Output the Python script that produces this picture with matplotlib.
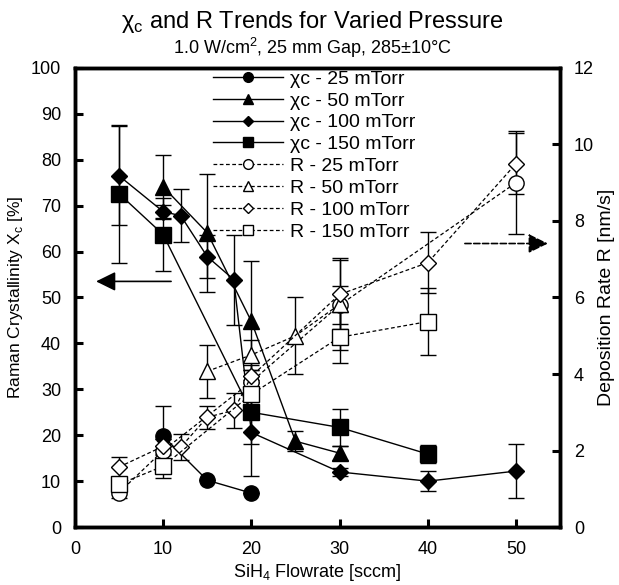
import matplotlib
matplotlib.use('Agg')
import matplotlib.pyplot as plt
from matplotlib.lines import Line2D

plt.rcParams['font.family'] = ['Liberation Sans', 'DejaVu Sans']
plt.rcParams['mathtext.fontset'] = 'custom'
plt.rcParams['mathtext.rm'] = 'Liberation Sans'

# crystallinity (left axis, %)
xc25_x = [10, 15, 20]
xc25_y = [19.8, 10.2, 7.4]
xc25_e = [6.5, 0, 0]

xc50_x = [10, 15, 20, 25, 30]
xc50_y = [74.1, 64.1, 44.8, 18.7, 16.1]
xc50_e = [7.0, 12.8, 13.2, 2.2, 1.5]

xc100_x = [5, 10, 12, 15, 18, 20, 30, 40, 50]
xc100_y = [76.5, 68.7, 67.8, 58.9, 53.9, 20.6, 12.0, 10.0, 12.2]
xc100_e = [10.8, 1.5, 5.8, 4.6, 9.8, 9.5, 0.8, 2.2, 5.9]

xc150_x = [5, 10, 20, 30, 40]
xc150_y = [72.6, 63.7, 25.0, 21.7, 15.9]
xc150_e = [15.0, 8.0, 7.0, 4.0, 2.0]

# deposition rate (right axis, nm/s)
r25_x = [5, 10, 20, 30, 50]
r25_y = [0.9, 2.0, 3.8, 5.8, 9.0]
r25_e = [0.15, 0.3, 0.3, 0.5, 1.35]

r50_x = [15, 20, 25, 30]
r50_y = [4.07, 4.5, 5.0, 5.82]
r50_e = [0.7, 0.4, 1.0, 1.2]

r100_x = [5, 10, 12, 15, 18, 20, 30, 40, 50]
r100_y = [1.57, 2.11, 2.09, 2.87, 3.05, 3.94, 6.08, 6.91, 9.5]
r100_e = [0.26, 0.2, 0.35, 0.3, 0.45, 0.3, 0.9, 0.8, 0.8]

r150_x = [5, 10, 20, 30, 40]
r150_y = [1.12, 1.59, 3.47, 4.96, 5.37]
r150_e = [0.2, 0.3, 0.3, 0.66, 0.88]

pressures = ['25', '50', '100', '150']
markers = ['o', '^', 'D', 's']
sizes = [11, 12, 8.5, 12]
leg_sizes = [7, 7, 5, 7]

xc_series = [(xc25_x, xc25_y, xc25_e), (xc50_x, xc50_y, xc50_e),
             (xc100_x, xc100_y, xc100_e), (xc150_x, xc150_y, xc150_e)]
r_series = [(r25_x, r25_y, r25_e), (r50_x, r50_y, r50_e),
            (r100_x, r100_y, r100_e), (r150_x, r150_y, r150_e)]

fig = plt.figure(figsize=(6.19, 5.85), dpi=100)
ax = fig.add_axes([0.121, 0.099, 0.784, 0.785])
ax2 = ax.twinx()

for (x, y, e), m, ms in zip(xc_series, markers, sizes):
    ax.errorbar(x, y, yerr=e, fmt=m, ls='-', color='black', lw=1.0,
                ms=ms, mfc='black', mec='black', ecolor='black',
                elinewidth=1.0, capsize=6, capthick=1.0)

for (x, y, e), m, ms in zip(r_series, markers, sizes):
    ax2.errorbar(x, y, yerr=e, fmt=m, ls=(0, (3, 2)), color='black', lw=0.9,
                 ms=ms, mfc='white', mec='black', mew=1.0, ecolor='black',
                 elinewidth=1.0, capsize=6, capthick=1.0)

ax.set_xlim(0, 55)
ax.set_ylim(0, 100)
ax2.set_ylim(0, 12)
ax.set_xticks(range(0, 51, 10))
ax.set_yticks(range(0, 101, 10))
ax2.set_yticks(range(0, 13, 2))

for a in (ax, ax2):
    for s in a.spines.values():
        s.set_linewidth(2.5)
    a.tick_params(direction='in', length=6, width=2.2, labelsize=13, pad=10)

ax.set_xlabel('SiH$_\\mathregular{4}$ Flowrate [sccm]', fontsize=13, labelpad=3)
ax.set_ylabel('Raman Crystallinity X$_\\mathregular{c}$ [%]', fontsize=12.5, labelpad=4)
ax2.set_ylabel('Deposition Rate R [nm/s]', fontsize=14, labelpad=3)

fig.text(0.505, 0.963, 'χ$_\\mathregular{c}$ and R Trends for Varied Pressure',
         ha='center', va='center', fontsize=17)
fig.text(0.505, 0.918, '1.0 W/cm$^\\mathregular{2}$, 25 mm Gap, 285±10°C',
         ha='center', va='center', fontsize=13)

# arrows pointing to the axes
head = '-|>,head_length=0.85,head_width=0.42'
ax.annotate('', xy=(2.4, 53.5), xytext=(10.9, 53.5),
            arrowprops=dict(arrowstyle=head, color='black', lw=1.2,
                            mutation_scale=14, shrinkA=0, shrinkB=0))
ax2.annotate('', xy=(53.6, 7.41), xytext=(44.2, 7.41),
             arrowprops=dict(arrowstyle=head, color='black', lw=1.2, ls='--',
                             mutation_scale=14, shrinkA=0, shrinkB=0))

handles = []
labels = []
for p, m, ms in zip(pressures, markers, leg_sizes):
    handles.append(Line2D([], [], color='black', lw=1.0, marker=m, ms=ms,
                          mfc='black', mec='black'))
    labels.append(f'χc - {p} mTorr')
for p, m, ms in zip(pressures, markers, leg_sizes):
    handles.append(Line2D([], [], color='black', lw=0.9, ls=(0, (3, 2)), marker=m,
                          ms=ms, mfc='white', mec='black'))
    labels.append(f'R - {p} mTorr')

leg = ax2.legend(handles, labels, loc='upper left',
                 bbox_to_anchor=(213 / 619, 1 - 70 / 585), bbox_transform=fig.transFigure,
                 frameon=False, fontsize=14, handlelength=3.6, handletextpad=0.35,
                 labelspacing=0.22, borderpad=0, borderaxespad=0)

fig.savefig('out.png', dpi=100)
